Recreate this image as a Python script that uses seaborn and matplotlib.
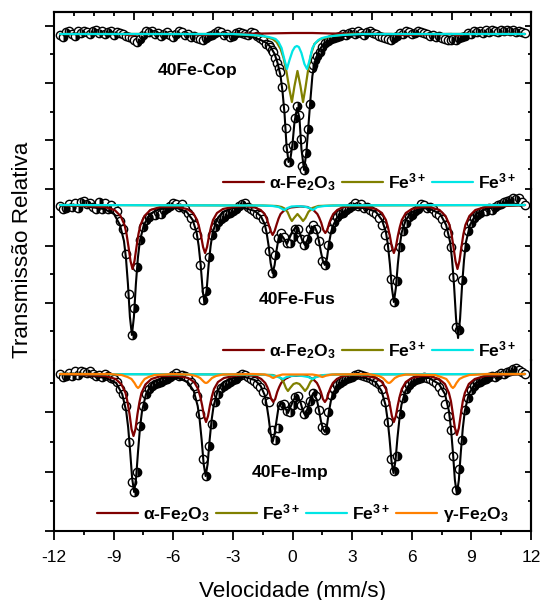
import numpy as np
import matplotlib
matplotlib.use("Agg")
import matplotlib.pyplot as plt
from matplotlib.markers import MarkerStyle
from matplotlib.ticker import FixedLocator, MultipleLocator
import seaborn as sns

# ---------- data: velocity channels (mm/s) ----------
velocity = [
 -11.7,-11.55,-11.4,-11.25,-11.1,-10.95,-10.8,-10.65,-10.5,-10.35,
 -10.2,-10.05,-9.9,-9.75,-9.6,-9.45,-9.3,-9.15,-9.0,-8.85,
 -8.7,-8.55,-8.4,-8.25,-8.1,-7.95,-7.8,-7.65,-7.5,-7.35,
 -7.2,-7.05,-6.9,-6.75,-6.6,-6.45,-6.3,-6.15,-6.0,-5.85,
 -5.7,-5.55,-5.4,-5.25,-5.1,-4.95,-4.8,-4.65,-4.5,-4.35,
 -4.2,-4.05,-3.9,-3.75,-3.6,-3.45,-3.3,-3.15,-3.0,-2.85,
 -2.7,-2.55,-2.4,-2.25,-2.1,-1.95,-1.8,-1.65,-1.5,-1.35,
 -1.2,-1.05,-0.9,-0.75,-0.6,-0.45,-0.3,-0.15,0.0,0.15,
 0.3,0.45,0.6,0.75,0.9,1.05,1.2,1.35,1.5,1.65,
 1.8,1.95,2.1,2.25,2.4,2.55,2.7,2.85,3.0,3.15,
 3.3,3.45,3.6,3.75,3.9,4.05,4.2,4.35,4.5,4.65,
 4.8,4.95,5.1,5.25,5.4,5.55,5.7,5.85,6.0,6.15,
 6.3,6.45,6.6,6.75,6.9,7.05,7.2,7.35,7.5,7.65,
 7.8,7.95,8.1,8.25,8.4,8.55,8.7,8.85,9.0,9.15,
 9.3,9.45,9.6,9.75,9.9,10.05,10.2,10.35,10.5,10.65,
 10.8,10.95,11.1,11.25,11.4,11.55,11.7]

# absorption depths below the baseline of each spectrum
cop_left = [
 1,3,-2,-3,0,2,-3,-1,-3,-2,
 0,-3,-4,-1,-3,0,-2,-3,1,-2,
 -1,0,2,3,4,6,8,5,1,-3,
 -2,-3,0,-1,2,0,-2,1,3,0,
 -3,-2,1,0,3,2,4,5,6,4,
 2,1,-1,-3,-2,1,0,3,2,-1,
 -2,-1,0,1,-2,-1,2,4,6,10]
cop_mid_x = [-1.2,-1.13,-1.05,-0.98,-0.88,-0.78,-0.7,-0.63,-0.53,-0.43,-0.33,-0.28,-0.23,-0.18,0.03,
             0.13,0.23,0.33,0.43,0.48,0.58,0.68,0.78,0.88,0.98,1.05,1.13,1.25,1.38,1.5,1.64]
cop_mid = [11,13,16,18,24,29,34,38,53,74,94,114,128,128,111,
           84,72,81,105,132,136,119,95,70,34,31,26,22,18,13,9]
cop_right = [
 7,5,4,3,2,0,1,-1,-2,0,
 -3,-1,1,-2,-3,-1,0,2,3,4,
 5,6,4,2,-1,0,-3,-2,0,-1,
 -3,-2,-1,0,2,1,3,2,4,5,
 6,6,5,6,4,3,2,-1,0,-3,
 -2,-3,-1,-4,-2,-4,-3,-2,-4,-3,
 -4,-3,-4,-2,-3,-2,-1]

fus_points = [
 1,4,3,-1,2,-2,3,-3,-4,-1,
 -2,2,4,-3,4,-2,4,0,3,6,
 16,24,49,89,130,103,62,35,22,15,
 12,8,10,7,9,5,3,1,-2,-1,
 2,-1,4,8,13,20,30,60,95,86,
 52,30,22,17,14,12,9,8,6,4,
 1,-1,-2,2,4,6,9,10,14,24,
 46,68,50,33,28,32,38,38,32,24,
 24,34,40,34,24,20,24,36,56,60,
 40,24,17,12,9,8,5,3,1,-2,
 1,-1,3,2,5,7,9,13,20,30,
 42,74,97,76,42,26,18,12,10,6,
 4,-1,0,3,2,4,8,10,14,20,
 28,42,72,122,125,75,42,26,18,13,
 10,8,6,6,3,5,2,0,-1,-3,
 -4,-5,-7,-6,-7,-3,0]

imp_points = [
 0,3,2,-1,2,-3,1,-3,-2,-1,
 -3,0,2,1,3,0,2,4,5,8,
 15,20,32,68,108,118,98,52,32,20,
 15,12,10,9,8,6,5,3,1,-1,
 2,1,2,4,8,12,22,40,85,102,
 72,50,28,20,14,12,10,8,6,5,
 2,0,1,3,5,7,10,13,18,27,
 28,56,66,54,31,30,37,38,31,23,
 22,31,40,36,27,19,22,36,53,56,
 38,21,15,11,9,7,5,4,3,1,
 0,1,2,3,4,6,8,10,15,28,
 48,85,97,82,40,24,15,11,8,6,
 5,4,3,4,5,7,9,13,18,30,
 42,56,82,116,95,66,36,24,16,12,
 9,8,6,5,3,2,3,1,-1,0,
 -2,-3,-5,-6,-4,-2,0]

# ---------- fitted curves ----------
cop_total_x = [-11.7,-6,-3,-2,-1.6,-1.3,-1.1,-0.9,-0.75,-0.6,-0.5,-0.4,-0.3,-0.2,-0.1,0.0,0.1,0.23,0.35,0.45,
               0.58,0.7,0.8,0.9,1.0,1.15,1.35,1.6,2,2.5,3.5,6,11.7]
cop_total = [0,0,1,3,6,9,13,20,29,42,58,80,112,128,124,110,88,74,84,115,
             136,118,92,66,42,26,16,9,5,2,1,0,0]
cop_hem_x = [-11.7,-8.6,-8.1,-7.7,-5,-4.45,-4,-1.5,0,1,2,5,5.5,8,8.3,8.7,11.7]
cop_hem = [0,0,1.5,0,0,1,0,-0.5,-1,-1,-0.5,0,1,0,1.5,0,0]
cop_fe1_x = [-11.7,-3,-1.5,-1,-0.8,-0.6,-0.45,-0.3,-0.15,-0.03,0.1,0.25,0.4,0.53,0.65,0.8,0.95,1.1,1.4,2,3,11.7]
cop_fe1 = [0,0,2,5,8,15,24,38,56,68,52,37,52,68,54,34,19,10,5,2,0,0]
cop_fe2_x = [-11.7,-3,-2,-1.5,-1.2,-1,-0.85,-0.7,-0.55,-0.4,-0.28,-0.15,0,0.12,0.22,
             0.32,0.45,0.6,0.73,0.85,1,1.15,1.3,1.5,1.8,2.5,3.5,11.7]
cop_fe2 = [0,0,1,2,3,4,5,8,14,26,35,26,17,13,12,
           13,19,30,35,27,14,9,6,4,2.5,1,0,0]

fus_total_x = [-11.7,-10.5,
 -9.48,-8.98,-8.68,-8.48,-8.38,-8.28,-8.18,-8.08,-7.98,-7.88,-7.78,-7.68,-7.48,-7.18,-6.68,
 -5.82,-5.32,-5.02,-4.82,-4.72,-4.62,-4.52,-4.42,-4.32,-4.22,-4.12,-4.02,-3.82,-3.52,-3.02,
 -2.4,-1.9,-1.6,-1.4,-1.3,-1.2,-1.1,-1.0,-0.9,-0.8,-0.7,-0.6,
 -0.45,-0.28,-0.15,0,0.2,0.35,0.5,0.63,0.75,0.9,1.1,
 1.23,1.33,1.43,1.53,1.63,1.73,1.83,1.93,2.03,2.23,2.53,3.03,
 3.7,4.2,4.5,4.7,4.8,4.9,5,5.1,5.2,5.3,5.4,5.5,5.7,6,6.5,
 6.93,7.43,7.73,7.93,8.03,8.13,8.23,8.33,8.43,8.53,8.63,8.73,8.93,9.23,9.73,10.5,11.7]
fus_total = [0,1,
 4,9,20,36,53,79,112,130,112,79,53,36,20,9,4,
 3,7,15,28,41,60,85,99,85,60,41,28,15,7,3,
 3,6,11,19,28,41,58,68,60,45,33,29,
 33,39,33,26,22,27,36,40,35,26,21,
 27,36,47,56,60,54,39,28,21,13,7,3,
 3,7,15,27,40,59,83,97,83,59,40,27,15,7,3,
 4,9,20,37,55,81,114,133,114,81,55,37,20,9,4,1,0]
fus_hem_x = [-11.7,-9.45,-8.95,-8.65,-8.45,-8.35,-8.25,-8.15,-8.05,-7.95,-7.85,-7.75,-7.65,-7.45,-7.15,-6.65,
 -5.8,-5.3,-5,-4.8,-4.7,-4.6,-4.5,-4.4,-4.3,-4.2,-4.1,-4,-3.8,-3.5,-3,
 -2.4,-1.9,-1.6,-1.4,-1.3,-1.2,-1.1,-1,-0.9,-0.8,-0.7,-0.6,-0.4,-0.1,0.4,
 0.75,1.05,1.25,1.35,1.45,1.55,1.65,1.75,1.85,1.95,2.05,2.25,2.55,3.05,
 3.7,4.2,4.5,4.7,4.8,4.9,5,5.1,5.2,5.3,5.4,5.5,5.7,6,6.5,
 6.9,7.4,7.7,7.9,8,8.1,8.2,8.3,8.4,8.5,8.6,8.7,8.9,9.2,9.7,11.7]
fus_hem = [0,2,5,11,20,29,42,56,64,56,42,29,20,11,5,2,
 2,4,8,15,22,31,42,48,42,31,22,15,8,4,2,
 1,2.5,5,9,13.5,19.5,26,30,26,19.5,13.5,9,5,2.5,1.5,
 2,5,9,13,18,25,28,25,18,13,9,5,2,1,
 2,4,8,15,22,31,42,48,42,31,22,15,8,4,2,
 2,5,11,20,29,42,56,64,56,42,29,20,11,5,2,0]
fus_fe1_x = [-11.7,-1.5,-0.8,-0.55,-0.4,-0.25,-0.12,-0.03,0.08,0.25,0.42,0.53,0.65,0.8,1,1.3,2,11.7]
fus_fe1 = [0,0.5,1,2,3.5,7,13,16,13,9,13,16,13,7,3,1,0.5,0]
fus_fe2_x = [-11.7,-1.6,-1.0,-0.7,-0.42,-0.25,-0.05,0.25,0.55,0.8,1.03,1.25,1.6,2.4,11.7]
fus_fe2 = [0,0.5,1,2,5,3,1.5,1.2,1.5,2.5,5,2,1,0.3,0]

imp_total_x = [-11.7,-10.5,
 -9.37,-8.87,-8.57,-8.37,-8.27,-8.17,-8.07,-7.97,-7.87,-7.77,-7.67,-7.57,-7.37,-7.07,-6.57,
 -5.77,-5.27,-4.97,-4.77,-4.67,-4.57,-4.47,-4.37,-4.27,-4.17,-4.07,-3.97,-3.77,-3.47,-2.97,
 -2.4,-1.9,-1.6,-1.4,-1.3,-1.2,-1.1,-1,-0.9,-0.8,-0.7,-0.6,
 -0.45,-0.23,-0.1,0.05,0.23,0.4,0.52,0.63,0.75,0.9,1.05,
 1.23,1.33,1.43,1.53,1.63,1.73,1.83,1.93,2.03,2.23,2.53,3.03,
 3.68,4.18,4.48,4.68,4.78,4.88,4.98,5.08,5.18,5.28,5.38,5.48,5.68,5.98,6.48,
 6.87,7.37,7.67,7.87,7.97,8.07,8.17,8.27,8.37,8.47,8.57,8.67,8.87,9.17,9.67,10.5,11.7]
imp_total = [0,1,
 4,9,20,37,53,77,104,118,104,77,53,37,20,9,4,
 4,8,17,32,46,66,90,102,90,66,46,32,17,8,4,
 3,6,12,21,31,44,60,68,60,46,33,29,
 31,39,33,26,21,28,37,41,35,25,19,
 26,36,47,55,58,52,38,27,20,12,7,3,
 4,8,17,31,45,64,87,99,87,64,45,31,17,8,4,
 4,10,20,37,54,78,106,120,106,78,54,37,20,10,4,1,0]
imp_hem_x = [-11.7,-9.4,-8.9,-8.6,-8.4,-8.3,-8.2,-8.1,-8,-7.9,-7.8,-7.7,-7.6,-7.4,-7.1,-6.6,
 -5.75,-5.25,-4.95,-4.75,-4.65,-4.55,-4.45,-4.35,-4.25,-4.15,-4.05,-3.95,-3.75,-3.45,-2.95,
 -2.4,-1.87,-1.57,-1.37,-1.27,-1.17,-1.07,-0.97,-0.87,-0.77,-0.67,-0.57,-0.37,-0.07,0.43,
 0.73,1.03,1.23,1.33,1.43,1.53,1.63,1.73,1.83,1.93,2.03,2.23,2.53,3.03,
 3.7,4.2,4.5,4.7,4.8,4.9,5,5.1,5.2,5.3,5.4,5.5,5.7,6,6.5,
 6.87,7.37,7.67,7.87,7.97,8.07,8.17,8.27,8.37,8.47,8.57,8.67,8.87,9.17,9.67,11.7]
imp_hem = [0,2,5,10.5,19,28,40,55,62,55,40,28,19,10.5,5,2,
 2,4,8,15,22,31,42,48,42,31,22,15,8,4,2,
 1,2,5,9,13,18,25,28,25,18,13,9,5,2,1.5,
 2,5,9,13,18,25,28,25,18,13,9,5,2,1,
 2,4,8,15,22,31,42,48,42,31,22,15,8,4,2,
 2,5,10,19,27,40,54,61,54,40,27,19,10,5,2,0]
imp_fe1_x = [-11.7,-2,-1,-0.75,-0.6,-0.45,-0.33,-0.23,-0.12,0.05,0.2,0.35,0.52,0.63,0.75,0.9,1.1,1.4,2.2,11.7]
imp_fe1 = [0,0.5,1,2.5,4,8,14,17,14,10,9,10,14,17,14,8,3.5,1.5,0.5,0]
imp_fe2_x = [-11.7,-1.6,-1,-0.7,-0.48,-0.3,-0.1,0.2,0.5,0.8,1,1.2,1.6,2.4,11.7]
imp_fe2 = [0,0.5,1.5,3,5,3,2,1.5,2,3,5,3,1,0.3,0]
imp_mag_x = [-11.7,-9.2,-8.6,-8.3,-8.1,-7.95,-7.85,-7.77,-7.69,-7.59,-7.44,-7.24,-6.94,-6,
 -5.2,-4.85,-4.65,-4.5,-4.42,-4.35,-4.28,-4.2,-4.05,-3.85,-3.5,-2,
 -1.4,-1.15,-1.03,-0.97,-0.91,-0.79,-0.5,1,1.3,1.42,1.5,1.58,1.7,2,
 3.8,4.35,4.55,4.7,4.78,4.85,4.92,5,5.15,5.35,5.7,
 7.17,7.47,7.74,7.89,7.99,8.07,8.15,8.25,8.4,8.6,8.9,9.8,11.7]
imp_mag = [0,0,1,3,5,9,12.5,14,12.5,9,5,3,1,0,
 0.5,2,4,7,8.5,9,8.5,7,4,2,0.5,0,
 0.5,2,3.5,4,3.5,2,0.5,0.5,1.5,2.5,3,2.5,1.5,0.5,
 0,2,4,7,8.5,9,8.5,7,4,2,0.5,
 1,3,5,9,12.5,14,12.5,9,5,3,1,0,0]

x_tick_major = [-12,-9,-6,-3,0,3,6,9,12]
x_tick_labels = ['-12','-9','-6','-3','0','3','6','9','12']
panel_names = ['40Fe-Cop','40Fe-Fus','40Fe-Imp']
legend_names3 = ['α-Fe$_{\\mathbf{2}}$O$_{\\mathbf{3}}$','Fe$^{\\mathbf{3+}}$','Fe$^{\\mathbf{3+}}$']
legend_name_mag = 'γ-Fe$_{\\mathbf{2}}$O$_{\\mathbf{3}}$'

# ---------- style ----------
sns.set_theme(style='ticks', rc={'axes.linewidth':1.5, 'axes.edgecolor':'black', 'xtick.color':'black',
                                 'ytick.color':'black', 'text.color':'black', 'axes.labelcolor':'black'})
plt.rcParams['font.family'] = ['Liberation Sans','DejaVu Sans']
plt.rcParams['mathtext.fontset'] = 'custom'
plt.rcParams['mathtext.bf'] = 'Liberation Sans:bold'
plt.rcParams['mathtext.rm'] = 'Liberation Sans'
plt.rcParams['mathtext.default'] = 'bf'

W, H = 541, 600
fig = plt.figure(figsize=(W/100, H/100), dpi=100)
fig.patch.set_facecolor('white')

HEM, FE1, FE2, MAG = '#7f0000', '#808000', '#00e5e5', '#ff8000'
LEFT, RIGHT = 54, 531

def make_panel(top, bottom, base, major_px, minor_px):
    ax = fig.add_axes([LEFT/W, 1-bottom/H, (RIGHT-LEFT)/W, (bottom-top)/H])
    ax.set_xlim(-12, 12)
    ax.set_ylim(-(bottom-base), base-top)
    ax.patch.set_alpha(0)
    ax.set_yticks([base-p for p in major_px])
    ax.set_yticks([base-p for p in minor_px], minor=True)
    ax.tick_params(axis='y', which='major', direction='out', length=6.5, width=1.3, labelleft=False)
    ax.tick_params(axis='y', which='minor', direction='out', length=3, width=1.3)
    ax.set_xticks(x_tick_major)
    ax.xaxis.set_minor_locator(MultipleLocator(1.5))
    ax.tick_params(axis='x', which='both', bottom=False, top=False, labelbottom=False)
    sec = ax.secondary_yaxis('right')
    sec.set_yticks([base-p for p in major_px])
    sec.yaxis.set_minor_locator(FixedLocator([base-p for p in minor_px]))
    sec.tick_params(axis='y', which='major', direction='in', length=4, width=1.3, labelright=False)
    sec.tick_params(axis='y', which='minor', direction='in', length=2.5, width=1.3)
    sec.spines['right'].set_linewidth(1.5)
    for s in ['top','bottom']:
        ax.spines[s].set_visible(False)
    ax.spines['left'].set_linewidth(1.5)
    ax.spines['right'].set_linewidth(1.5)
    return ax

def draw_points(ax, x, d):
    x = np.asarray(x, float)
    y = -np.asarray(d, float)
    sns.scatterplot(x=x, y=y, ax=ax, marker='o', s=36, color='white',
                    edgecolor='black', linewidth=1.0, zorder=2, legend=False)
    rising = np.r_[np.diff(y) > 0, False] | np.r_[False, np.diff(y) > 6]
    sns.scatterplot(x=x[rising], y=y[rising], ax=ax, marker=MarkerStyle('o', fillstyle='right'),
                    s=36, color='black', edgecolor='black', linewidth=0, zorder=2.5, legend=False)

def draw_line(ax, x, d, color, lw=1.6, z=4):
    sns.lineplot(x=np.asarray(x, float), y=-np.asarray(d, float), ax=ax, color=color, lw=lw,
                 estimator=None, errorbar=None, sort=False, legend=False, zorder=z)
    return ax.lines[-1]

def add_legend(ax, handles, labels, xpx, ypx):
    leg = ax.legend(handles, labels, ncol=len(labels), frameon=False, loc='center left',
                    bbox_to_anchor=(xpx/W, 1-ypx/H), bbox_transform=fig.transFigure,
                    borderpad=0, borderaxespad=0, handlelength=2.35, handletextpad=0.3,
                    columnspacing=0.32, labelcolor='black',
                    prop={'family':'Liberation Sans','weight':'bold','size':12.6})
    return leg

# --- top panel ---
ax1 = make_panel(12, 189, 34, [26,83,140], [54,112,169])
ax1.spines['top'].set_visible(True)
ax1.spines['top'].set_linewidth(1.5)
top_ax = ax1.secondary_xaxis('top')
top_ax.xaxis.set_major_locator(MultipleLocator(4))
top_ax.xaxis.set_minor_locator(MultipleLocator(1))
top_ax.tick_params(axis='x', which='major', direction='in', length=6, width=1.3, labeltop=False)
top_ax.tick_params(axis='x', which='minor', direction='in', length=3, width=1.3)
top_ax.spines['top'].set_linewidth(1.5)
cop_x = velocity[:70] + cop_mid_x + velocity[90:]
cop_d = cop_left + cop_mid + cop_right
draw_points(ax1, cop_x, cop_d)
draw_line(ax1, cop_total_x, cop_total, 'black', 1.5, 3)
h1 = draw_line(ax1, cop_hem_x, cop_hem, HEM)
h2 = draw_line(ax1, cop_fe1_x, cop_fe1, FE1, z=4.1)
h3 = draw_line(ax1, cop_fe2_x, cop_fe2, FE2, z=4.2)
add_legend(ax1, [h1,h2,h3], legend_names3, 223, 182)
ax1.text(-4.75, 34-71, panel_names[0], ha='center', va='center', fontsize=12.6, fontweight='bold', color='black')

# --- middle panel ---
ax2 = make_panel(189, 360, 205, [189,246,303], [217,274,331])
draw_points(ax2, velocity, fus_points)
draw_line(ax2, fus_total_x, fus_total, 'black', 1.5, 3)
h1 = draw_line(ax2, fus_hem_x, fus_hem, HEM)
h2 = draw_line(ax2, fus_fe1_x, fus_fe1, FE1, z=4.1)
h3 = draw_line(ax2, fus_fe2_x, fus_fe2, FE2, z=4.2)
add_legend(ax2, [h1,h2,h3], legend_names3, 223, 350)
ax2.text(0.22, 205-300, panel_names[1], ha='center', va='center', fontsize=12.6, fontweight='bold', color='black')
ax2.set_ylabel('Transmissão Relativa', fontsize=16.2, color='black', va='center', visible=True)
ax2.yaxis.set_label_coords((23-LEFT)/(RIGHT-LEFT), (360-250)/171)

# --- bottom panel ---
ax3 = make_panel(360, 531, 374, [412,472,531], [383,442,501])
ax3.spines['bottom'].set_visible(True)
ax3.spines['bottom'].set_linewidth(1.5)
ax3.set_xticks(x_tick_major, x_tick_labels)
ax3.xaxis.set_minor_locator(MultipleLocator(1.5))
ax3.tick_params(axis='x', which='major', bottom=True, labelbottom=True, direction='out',
                length=6.5, width=1.3, labelsize=12.5, pad=7, labelcolor='black')
ax3.tick_params(axis='x', which='minor', bottom=True, direction='out', length=3, width=1.3)
draw_points(ax3, velocity, imp_points)
draw_line(ax3, imp_total_x, imp_total, 'black', 1.5, 3)
h1 = draw_line(ax3, imp_hem_x, imp_hem, HEM)
h2 = draw_line(ax3, imp_fe1_x, imp_fe1, FE1, z=4.1)
h3 = draw_line(ax3, imp_fe2_x, imp_fe2, FE2, z=4.2)
h4 = draw_line(ax3, imp_mag_x, imp_mag, MAG, z=4.3)
add_legend(ax3, [h1,h2,h3,h4], legend_names3+[legend_name_mag], 97, 513)
ax3.text(-0.12, 374-473, panel_names[2], ha='center', va='center', fontsize=12.6, fontweight='bold', color='black')
ax3.set_xlabel('Velocidade (mm/s)', fontsize=16.2, color='black', va='center', visible=True)
ax3.xaxis.set_label_coords(0.5, -(591-531)/171)

fig.savefig('out.png', dpi=100, facecolor='white')
